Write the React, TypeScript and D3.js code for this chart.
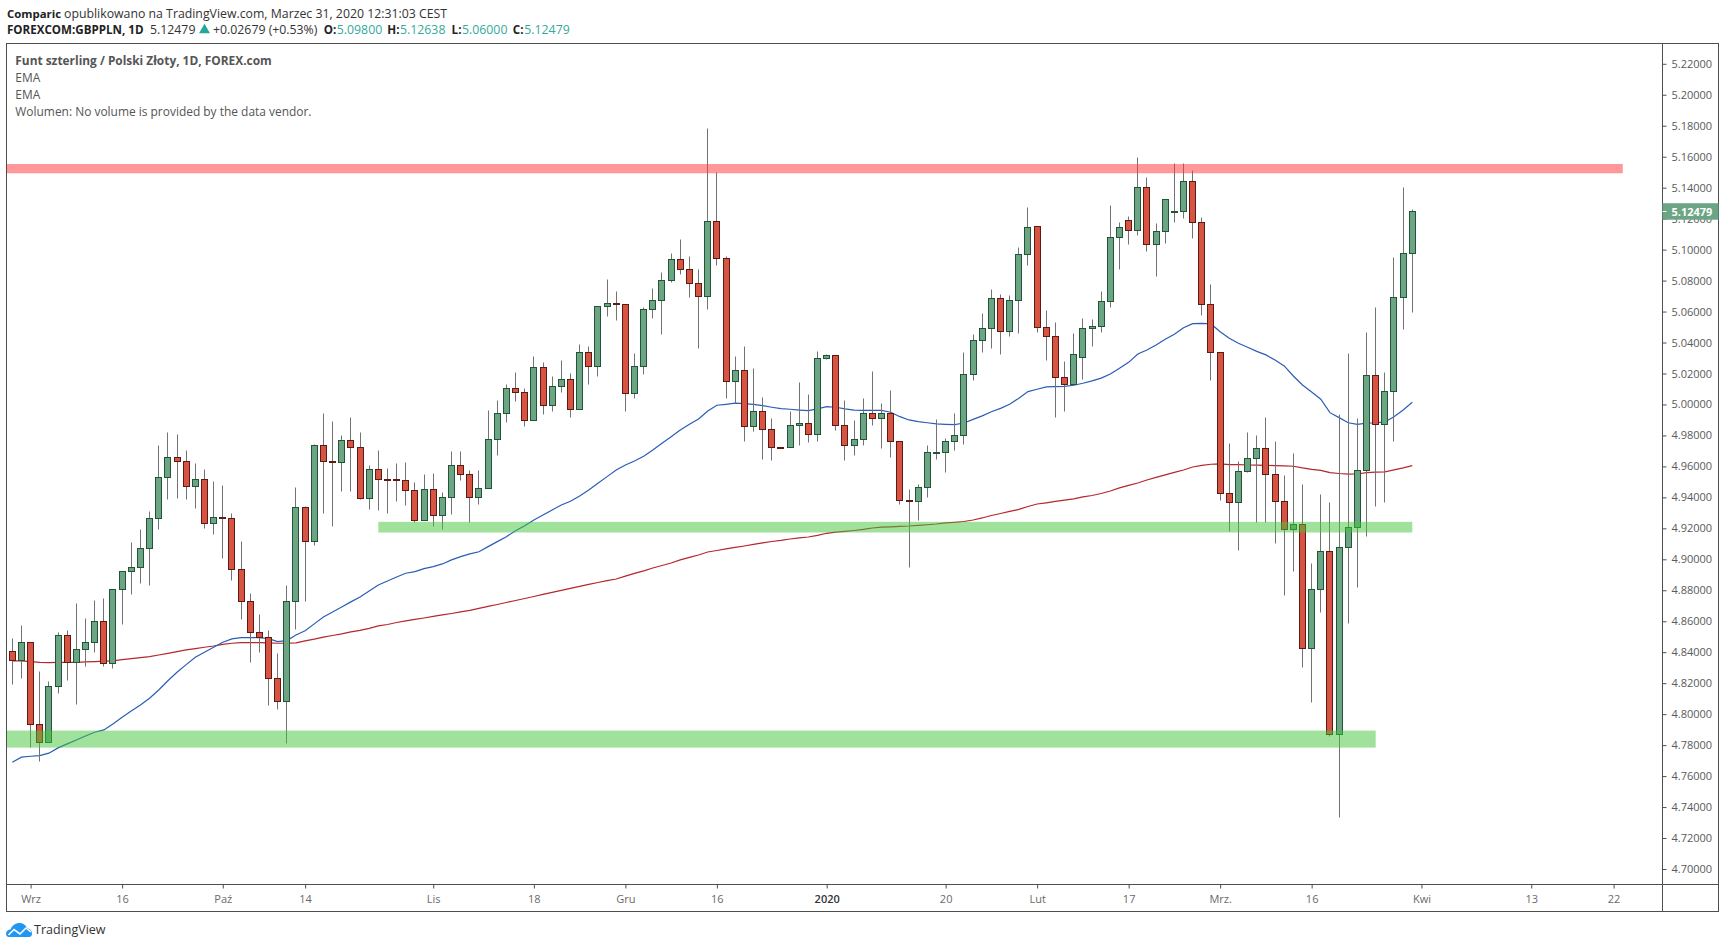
import { useEffect, useRef } from 'react';
import * as d3 from 'd3';

// OHLC, one value per daily bar
const opens = [
  4.8406,4.8348,4.8464,4.7935,4.7818,4.8180,4.8509,4.8335,4.8419,4.8464,
  4.8600,4.8329,4.8806,4.8923,4.8948,4.9071,4.9265,4.9530,4.9659,4.9633,
  4.9472,4.9517,4.9233,4.9271,4.9265,4.8936,4.8729,4.8529,4.8496,4.8232,
  4.8083,4.8729,4.9336,4.9116,4.9736,4.9633,4.9626,4.9768,4.9723,4.9394,
  4.9581,4.9517,4.9517,4.9510,4.9446,4.9252,4.9452,4.9284,4.9400,4.9607,
  4.9549,4.9400,4.9458,4.9775,4.9943,5.0104,5.0078,4.9898,5.0240,4.9994,
  5.0117,5.0162,4.9969,5.0337,5.0246,5.0634,5.0653,5.0647,5.0072,5.0246,
  5.0614,5.0672,5.0802,5.0937,5.0873,5.0782,5.0698,5.1183,5.0944,5.0149,
  5.0220,4.9859,4.9956,4.9839,4.9723,4.9723,4.9865,4.9878,4.9807,5.0298,
  5.0318,4.9866,4.9737,4.9775,4.9943,4.9911,4.9943,4.9762,4.9381,4.9375,
  4.9465,4.9689,4.9691,4.9762,4.9801,5.0194,5.0414,5.0491,5.0685,5.0472,
  5.0672,5.0969,5.1150,5.0498,5.0440,5.0175,5.0130,5.0304,5.0491,5.0504,
  5.0666,5.1079,5.1189,5.1124,5.1402,5.1034,5.1118,5.1245,5.1247,5.1441,
  5.1176,5.0646,5.0336,4.9426,4.9368,4.9568,4.9652,4.9717,4.9549,4.9375,
  4.9194,4.9226,4.8425,4.8806,4.9052,4.7870,4.9078,4.9207,4.9575,5.0188,
  4.9872,5.0085,5.0692,5.0980,
];
const closes = [
  4.8348,4.8464,4.7935,4.7818,4.8180,4.8509,4.8335,4.8419,4.8464,4.8600,
  4.8329,4.8806,4.8923,4.8948,4.9071,4.9265,4.9530,4.9659,4.9633,4.9472,
  4.9517,4.9233,4.9271,4.9265,4.8936,4.8729,4.8529,4.8496,4.8232,4.8083,
  4.8729,4.9336,4.9116,4.9736,4.9633,4.9626,4.9768,4.9723,4.9394,4.9581,
  4.9517,4.9514,4.9510,4.9446,4.9252,4.9452,4.9284,4.9400,4.9607,4.9549,
  4.9400,4.9458,4.9775,4.9943,5.0104,5.0078,4.9898,5.0240,4.9994,5.0117,
  5.0162,4.9969,5.0337,5.0246,5.0634,5.0653,5.0647,5.0072,5.0246,5.0614,
  5.0672,5.0802,5.0937,5.0873,5.0782,5.0698,5.1183,5.0944,5.0149,5.0220,
  4.9859,4.9956,4.9839,4.9723,4.9721,4.9865,4.9878,4.9807,5.0298,5.0318,
  4.9866,4.9737,4.9775,4.9943,4.9911,4.9943,4.9762,4.9381,4.9375,4.9465,
  4.9691,4.9691,4.9762,4.9801,5.0195,5.0414,5.0491,5.0685,5.0472,5.0672,
  5.0969,5.1144,5.0498,5.0440,5.0175,5.0130,5.0323,5.0491,5.0504,5.0666,
  5.1079,5.1144,5.1124,5.1402,5.1034,5.1118,5.1324,5.1247,5.1441,5.1176,
  5.0646,5.0336,4.9426,4.9368,4.9568,4.9652,4.9717,4.9549,4.9375,4.9194,
  4.9226,4.8425,4.8806,4.9052,4.7870,4.9078,4.9207,4.9575,5.0188,4.9872,
  5.0085,5.0692,5.0976,5.12479,
];
const highs = [
  4.8492,4.8576,4.8464,4.8279,4.8214,4.8529,4.8544,4.8718,4.8621,4.8737,
  4.8750,4.8806,4.8923,4.9110,4.9196,4.9310,4.9736,4.9820,4.9807,4.9704,
  4.9620,4.9581,4.9504,4.9478,4.9297,4.9116,4.8781,4.8645,4.8544,4.8393,
  4.8832,4.9465,4.9342,4.9743,4.9943,4.9891,4.9801,4.9917,4.9820,4.9607,
  4.9704,4.9588,4.9620,4.9626,4.9497,4.9549,4.9555,4.9433,4.9697,4.9697,
  4.9575,4.9575,4.9962,5.0027,5.0130,5.0208,5.0104,5.0311,5.0272,5.0182,
  5.0285,5.0201,5.0388,5.0375,5.0634,5.0808,5.0731,5.0647,5.0330,5.0627,
  5.0750,5.0853,5.0976,5.1066,5.0957,5.0873,5.1783,5.1499,5.0957,5.0311,
  5.0375,5.0233,5.0046,4.9911,4.9723,4.9956,5.0143,5.0065,5.0343,5.0324,
  5.0318,5.0027,4.9898,5.0040,5.0214,5.0008,5.0092,4.9762,4.9452,4.9485,
  4.9737,4.9904,4.9782,4.9943,5.0337,5.0453,5.0588,5.0743,5.0711,5.0705,
  5.1014,5.1273,5.1150,5.0608,5.0530,5.0278,5.0459,5.0556,5.0550,5.0730,
  5.1286,5.1176,5.1215,5.1596,5.1466,5.1169,5.1324,5.1557,5.1557,5.1512,
  5.1208,5.0776,5.0336,4.9749,4.9633,4.9820,4.9801,4.9917,4.9762,4.9543,
  4.9685,4.9484,4.8974,4.9420,4.9368,4.9936,5.0332,4.9911,5.0466,5.0629,
  5.0209,5.0950,5.1402,5.12638,
];
const lows = [
  4.8195,4.8236,4.7790,4.7700,4.7818,4.8137,4.8223,4.8068,4.8313,4.8404,
  4.8313,4.8301,4.8585,4.8778,4.8849,4.8837,4.9198,4.9392,4.9398,4.9392,
  4.9334,4.9205,4.9166,4.9011,4.8869,4.8617,4.8339,4.8404,4.8062,4.8036,
  4.7816,4.8552,4.8733,4.9091,4.9301,4.9217,4.9443,4.9443,4.9387,4.9327,
  4.9321,4.9301,4.9379,4.9353,4.9243,4.9252,4.9217,4.9198,4.9295,4.9514,
  4.9243,4.9359,4.9458,4.9676,4.9889,5.0022,4.9863,4.9898,4.9941,4.9960,
  5.0083,4.9921,4.9969,5.0134,5.0186,5.0573,5.0548,4.9960,5.0044,5.0199,
  5.0561,5.0457,5.0793,5.0845,5.0696,5.0367,5.0619,5.0903,5.0044,5.0007,
  4.9766,4.9831,4.9650,4.9644,4.9721,4.9723,4.9740,4.9760,4.9766,5.0294,
  4.9838,4.9644,4.9676,4.9741,4.9870,4.9721,4.9663,4.9360,4.8953,4.9256,
  4.9405,4.9650,4.9566,4.9709,4.9747,5.0156,5.0336,5.0367,5.0323,5.0440,
  5.0463,5.0903,5.0470,5.0289,4.9921,4.9960,5.0130,5.0166,5.0379,5.0470,
  5.0631,5.0877,5.1038,5.1096,5.0993,5.0832,5.1045,5.1180,5.1206,5.1077,
  5.0575,5.0160,4.9385,4.9185,4.9063,4.9562,4.9243,4.9243,4.9108,4.8772,
  4.8927,4.8307,4.8081,4.8662,4.7861,4.7338,4.8591,4.8824,4.9153,4.9347,
  4.9372,4.9766,5.0489,5.0600,
];

// the two moving averages
const emaBlue = [
  4.7689,4.7722,4.7728,4.7732,4.7748,4.7782,4.7808,4.7833,4.7859,4.7883,
  4.7898,4.7937,4.7980,4.8021,4.8059,4.8103,4.8156,4.8216,4.8271,4.8320,
  4.8367,4.8400,4.8432,4.8464,4.8486,4.8494,4.8494,4.8494,4.8488,4.8468,
  4.8475,4.8511,4.8539,4.8583,4.8628,4.8660,4.8692,4.8725,4.8757,4.8796,
  4.8834,4.8860,4.8886,4.8910,4.8920,4.8940,4.8953,4.8970,4.8996,4.9017,
  4.9035,4.9049,4.9082,4.9114,4.9146,4.9185,4.9217,4.9254,4.9286,4.9319,
  4.9351,4.9375,4.9409,4.9448,4.9491,4.9534,4.9577,4.9609,4.9635,4.9665,
  4.9706,4.9749,4.9792,4.9835,4.9872,4.9906,4.9958,4.9995,5.0001,5.0008,
  5.0005,5.0001,4.9992,4.9982,4.9973,4.9969,4.9964,4.9960,4.9971,4.9986,
  4.9982,4.9971,4.9964,4.9962,4.9962,4.9962,4.9950,4.9921,4.9900,4.9889,
  4.9882,4.9874,4.9872,4.9870,4.9880,4.9904,4.9926,4.9953,4.9975,5.0001,
  5.0040,5.0083,5.0098,5.0113,5.0115,5.0117,5.0124,5.0137,5.0152,5.0170,
  5.0197,5.0234,5.0272,5.0326,5.0352,5.0384,5.0421,5.0453,5.0496,5.0522,
  5.0524,5.0520,5.0470,5.0427,5.0395,5.0369,5.0343,5.0320,5.0287,5.0249,
  5.0184,5.0126,5.0081,5.0034,4.9947,4.9915,4.9882,4.9872,4.9879,4.9882,
  4.9887,4.9921,4.9964,5.0014,
];
const emaRed = [
  4.8344,4.8344,4.8339,4.8335,4.8333,4.8335,4.8335,4.8335,4.8337,4.8339,
  4.8342,4.8344,4.8352,4.8358,4.8365,4.8371,4.8382,4.8393,4.8404,4.8415,
  4.8423,4.8432,4.8440,4.8451,4.8458,4.8462,4.8462,4.8462,4.8460,4.8458,
  4.8458,4.8460,4.8473,4.8484,4.8497,4.8508,4.8518,4.8531,4.8541,4.8554,
  4.8570,4.8579,4.8592,4.8602,4.8612,4.8621,4.8631,4.8641,4.8650,4.8660,
  4.8670,4.8683,4.8696,4.8708,4.8721,4.8734,4.8747,4.8760,4.8773,4.8786,
  4.8799,4.8812,4.8825,4.8838,4.8850,4.8862,4.8873,4.8891,4.8909,4.8925,
  4.8944,4.8960,4.8976,4.8996,4.9012,4.9028,4.9047,4.9057,4.9067,4.9077,
  4.9086,4.9096,4.9106,4.9115,4.9122,4.9131,4.9138,4.9144,4.9154,4.9168,
  4.9175,4.9180,4.9186,4.9193,4.9202,4.9208,4.9210,4.9213,4.9215,4.9219,
  4.9223,4.9228,4.9235,4.9239,4.9244,4.9254,4.9267,4.9283,4.9296,4.9309,
  4.9322,4.9341,4.9357,4.9365,4.9374,4.9382,4.9390,4.9403,4.9412,4.9425,
  4.9441,4.9461,4.9477,4.9493,4.9512,4.9529,4.9545,4.9561,4.9577,4.9596,
  4.9606,4.9614,4.9616,4.9612,4.9611,4.9609,4.9608,4.9607,4.9605,4.9603,
  4.9601,4.9590,4.9581,4.9574,4.9560,4.9554,4.9550,4.9551,4.9560,4.9563,
  4.9565,4.9577,4.9590,4.9605,
];

// support / resistance boxes drawn on the chart (prices and bar indexes)
const zoneTops = [5.1553, 4.9242, 4.7894];
const zoneBottoms = [5.1493, 4.9173, 4.7784];
const zoneFromBar = [-0.6, 40, -0.6];
const zoneToBar = [176, 153, 149];
const zoneColors = ['#ff3333', '#41c539', '#41c539'];

const priceTicks = d3.range(0, 27).map((i) => 4.7 + i * 0.02);
const timeTickBars = [2, 12, 23, 32, 46, 57, 67, 77, 89, 102, 112, 122, 132, 142, 154, 166, 175];
const timeTickLabels = ['Wrz', '16', 'Paź', '14', 'Lis', '18', 'Gru', '16', '2020', '20', 'Lut', '17', 'Mrz.', '16', 'Kwi', '13', '22'];

const legendLines = ['EMA', 'EMA', 'Wolumen: No volume is provided by the data vendor.'];

const FONT = '"Open Sans", sans-serif';
const AXIS_COLOR = '#4f4f4f';
const TEAL = '#35a99c';

export default function App() {
  const ref = useRef<SVGSVGElement | null>(null);

  useEffect(() => {
    if (!ref.current) return;
    const svg = d3.select(ref.current);
    svg.selectAll('*').remove();

    const plot = { left: 6.5, right: 1662.5, top: 43.5, bottom: 884.5, outerRight: 1718.5, outerBottom: 911.5 };

    const x = d3.scaleLinear().domain([0, 153]).range([12.3, 1412.3]);
    const y = d3.scaleLinear().domain([4.7, 5.16]).range([869, 156.7]);
    const px = (i: number) => Math.floor(x(i)) + 0.5;
    const py = (p: number) => Math.round(y(p)) + 0.5;

    svg.append('rect').attr('width', 1725).attr('height', 948).attr('fill', '#fff');

    const clipId = 'plot-clip';
    svg.append('clipPath').attr('id', clipId).append('rect')
      .attr('x', plot.left).attr('y', plot.top)
      .attr('width', plot.right - plot.left).attr('height', plot.bottom - plot.top);

    const chart = svg.append('g').attr('clip-path', `url(#${clipId})`);

    // EMA lines sit under the candles
    const line = d3.line<number>().x((_, i) => x(i)).y((d) => y(d));
    chart.append('path').attr('d', line(emaRed)).attr('fill', 'none').attr('stroke', '#b5262e').attr('stroke-width', 1.2);
    chart.append('path').attr('d', line(emaBlue)).attr('fill', 'none').attr('stroke', '#2a5db5').attr('stroke-width', 1.2);

    // candles
    const bars = d3.range(opens.length);
    chart.selectAll('.wick').data(bars).enter().append('line')
      .attr('class', 'wick')
      .attr('x1', (i) => px(i)).attr('x2', (i) => px(i))
      .attr('y1', (i) => py(highs[i])).attr('y2', (i) => py(lows[i]))
      .attr('stroke', '#737375').attr('stroke-width', 1);
    chart.selectAll('.body').data(bars).enter().append('rect')
      .attr('class', 'body')
      .attr('x', (i) => px(i) - 3)
      .attr('width', 6)
      .attr('y', (i) => py(Math.max(opens[i], closes[i])))
      .attr('height', (i) => py(Math.min(opens[i], closes[i])) - py(Math.max(opens[i], closes[i])))
      .attr('fill', (i) => (closes[i] >= opens[i] ? '#6ba583' : '#d75442'))
      .attr('stroke', (i) => (closes[i] >= opens[i] ? '#225437' : '#5b1a13'))
      .attr('stroke-width', 1);

    // zones go on top, half transparent
    chart.selectAll('.zone').data(zoneTops).enter().append('rect')
      .attr('class', 'zone')
      .attr('x', (_, i) => x(zoneFromBar[i]))
      .attr('width', (_, i) => x(zoneToBar[i]) - x(zoneFromBar[i]))
      .attr('y', (d) => y(d))
      .attr('height', (d, i) => y(zoneBottoms[i]) - y(d))
      .attr('fill', (_, i) => zoneColors[i])
      .attr('fill-opacity', 0.5);

    // frame
    svg.append('rect')
      .attr('x', plot.left).attr('y', plot.top)
      .attr('width', plot.outerRight - plot.left).attr('height', plot.outerBottom - plot.top)
      .attr('fill', 'none').attr('stroke', AXIS_COLOR);

    // price axis, its line runs the whole height of the frame
    const yAxis = svg.append('g')
      .attr('transform', `translate(${plot.right},0)`)
      .call(d3.axisRight(y).tickValues(priceTicks).tickFormat((d) => (+d).toFixed(5)).tickSize(4).tickPadding(5));
    yAxis.select('.domain').attr('d', `M0,${plot.top}V${plot.outerBottom}`).attr('stroke', AXIS_COLOR);
    yAxis.selectAll('.tick line').attr('stroke', AXIS_COLOR);
    yAxis.selectAll('.tick text').attr('fill', '#5a5a5a').style('font-family', FONT).style('font-size', '11px');

    // time axis
    const xAxis = svg.append('g')
      .attr('transform', `translate(0,${plot.bottom})`)
      .call(
        d3.axisBottom(x)
          .tickValues(timeTickBars)
          .tickFormat((_, i) => timeTickLabels[i])
          .tickSize(4)
          .tickPadding(7)
      );
    xAxis.select('.domain').attr('d', `M${plot.left},0H${plot.outerRight}`).attr('stroke', AXIS_COLOR);
    xAxis.selectAll('.tick line').attr('stroke', AXIS_COLOR);
    xAxis.selectAll('.tick text')
      .attr('fill', (_, i) => (timeTickLabels[i] === '2020' ? '#333' : '#6a6a6a'))
      .style('font-weight', (_, i) => (timeTickLabels[i] === '2020' ? 600 : 400))
      .style('font-family', FONT).style('font-size', '11px');

    // last price tag
    const last = closes[closes.length - 1];
    svg.append('rect')
      .attr('x', plot.right).attr('y', y(last) - 8)
      .attr('width', plot.outerRight - plot.right).attr('height', 16.5)
      .attr('fill', '#6ba583');
    svg.append('line')
      .attr('x1', plot.right).attr('x2', plot.right + 4)
      .attr('y1', py(last)).attr('y2', py(last))
      .attr('stroke', '#fff');
    svg.append('text')
      .attr('x', plot.right + 9).attr('y', y(last) + 4.5)
      .attr('fill', '#fff').style('font-family', FONT).style('font-size', '11px').style('font-weight', 700)
      .text(last.toFixed(5));

    // header and legend text
    const text = (tx: number, ty: number, s: string, fill: string, weight = 400, size = 12.3) =>
      svg.append('text')
        .attr('x', tx).attr('y', ty)
        .attr('fill', fill)
        .style('font-family', FONT).style('font-size', `${size}px`).style('font-weight', weight)
        .text(s);

    text(7, 17.5, 'Comparic', '#222', 700, 11.4);
    text(64, 17.5, 'opublikowano na TradingView.com, Marzec 31, 2020 12:31:03 CEST', '#333');
    text(7, 34, 'FOREXCOM:GBPPLN, 1D', '#222', 700, 11.6);
    text(150, 34, '5.12479', '#333');
    text(213, 34, '+0.02679 (+0.53%)', '#333');
    svg.append('path')
      .attr('d', d3.symbol(d3.symbolTriangle, 52)())
      .attr('transform', 'translate(204.5,30)')
      .attr('fill', '#26a69a');
    text(323.8, 34, 'O:', '#222', 700, 11.6);
    text(336.8, 34, '5.09800', TEAL);
    text(387.3, 34, 'H:', '#222', 700, 11.6);
    text(400, 34, '5.12638', TEAL);
    text(451.6, 34, 'L:', '#222', 700, 11.6);
    text(462, 34, '5.06000', TEAL);
    text(512.8, 34, 'C:', '#222', 700, 11.6);
    text(524.3, 34, '5.12479', TEAL);

    text(15.3, 65, 'Funt szterling / Polski Złoty, 1D, FOREX.com', '#555', 700, 11.9);
    legendLines.forEach((l, i) => text(15.3, 82 + i * 17, l, '#555', 400, 11.95));

    // TradingView mark
    const logo = svg.append('g').attr('transform', 'translate(6,923)');
    logo.append('path')
      .attr('d', 'M0,11 C0,8 2,6.5 4.5,6.5 C6,2.5 9.5,0 13.5,0 C17,0 20,2 21,5 C24,5.5 26,8 26,10.5 C26,12.5 25,14 23,14 L3,14 C1,14 0,12.5 0,11 Z')
      .attr('fill', '#2196f3');
    logo.append('path')
      .attr('d', 'M2.5,12 L8,6.5 L14,11 L20,5 L25,9')
      .attr('fill', 'none').attr('stroke', '#fff').attr('stroke-width', 1.6);
    svg.append('text')
      .attr('x', 34).attr('y', 934.3)
      .attr('fill', '#333').style('font-family', FONT).style('font-size', '12.5px')
      .text('TradingView');
  }, []);

  return (
    <svg
      ref={ref}
      width={1725}
      height={948}
      style={{ position: 'absolute', left: 0, top: 0, display: 'block' }}
    />
  );
}
